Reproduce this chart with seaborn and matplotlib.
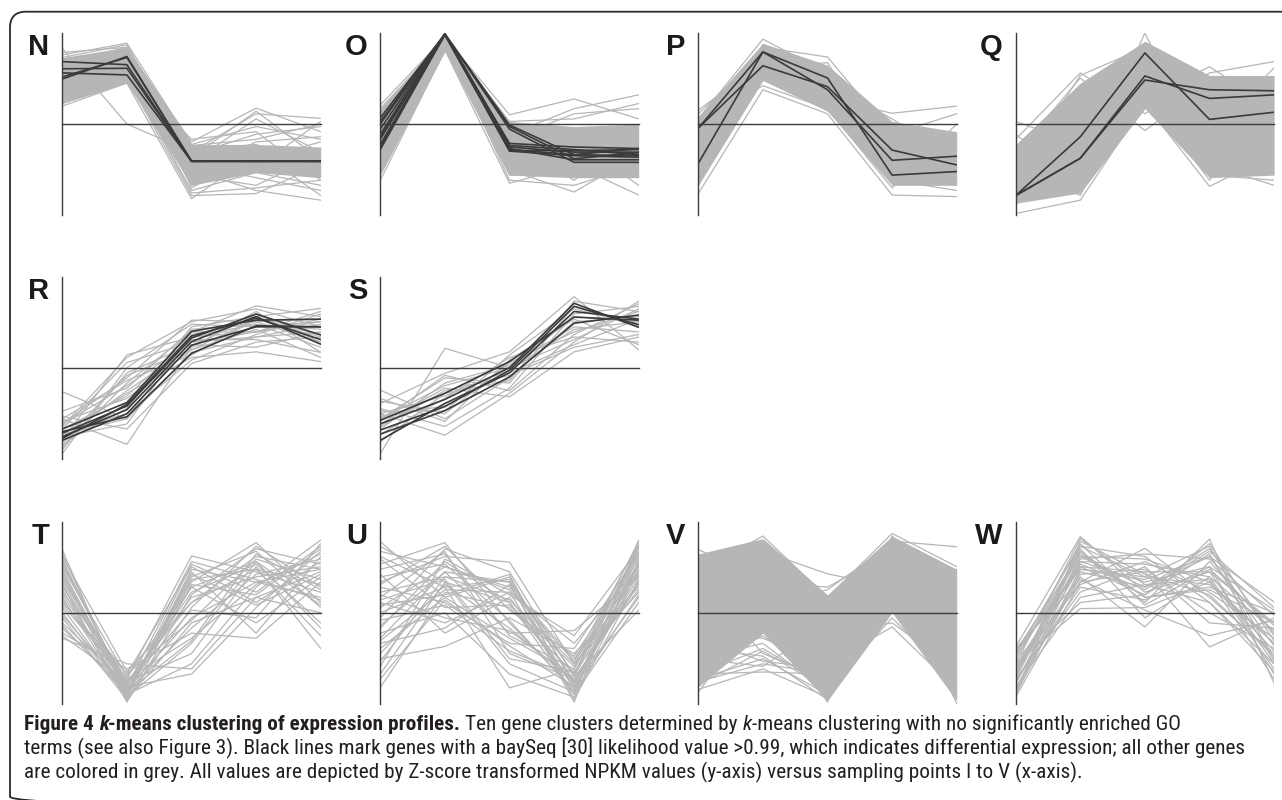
import matplotlib
matplotlib.use("Agg")
import matplotlib.pyplot as plt
from matplotlib import font_manager as fm
from matplotlib.font_manager import FontProperties
from matplotlib.patches import FancyBboxPatch
import seaborn as sns
import pandas as pd

# ---------------- data (Z-scores at sampling points I..V) ----------------
points = [1, 2, 3, 4, 5]

N_black = [
    [1.22, 1.16, -0.73, -0.73, -0.73],
    [0.88, 1.32, -0.73, -0.73, -0.73],
    [1.08, 1.09, -0.73, -0.72, -0.73],
    [0.92, 1.30, -0.72, -0.73, -0.72],
    [1.00, 0.96, -0.73, -0.73, -0.73],
]
N_grey = [
    [1.48, 0.00, -0.55, -0.65, -0.60],
    [1.35, 1.58, -0.40, -0.05, -0.30],
    [1.25, 1.45, -0.35, 0.31, -0.15],
    [0.35, 0.80, -1.46, -0.60, -1.00],
    [0.50, 0.90, -1.40, -1.36, -0.80],
    [0.80, 1.00, -0.55, 0.20, 0.11],
    [1.10, 1.20, -0.90, -1.30, -1.49],
    [0.95, 1.10, -1.20, -0.50, -1.40],
    [1.20, 1.40, -0.60, -0.20, -0.05],
    [0.70, 1.05, -1.00, -1.20, -0.60],
    [1.00, 1.30, -0.45, -0.85, 0.05],
    [0.60, 0.95, -1.30, -0.95, -1.20],
    [1.30, 1.55, -0.75, 0.10, -0.55],
    [0.85, 1.15, -0.50, -0.40, -0.90],
    [1.15, 1.25, -1.10, -0.70, -0.35],
    [0.45, 0.85, -0.80, -1.05, -1.30],
    [1.05, 1.35, -0.65, 0.25, -0.70],
    [0.75, 1.00, -1.35, -1.25, -1.10],
    [1.40, 1.50, -0.42, -0.30, 0.00],
    [0.55, 0.95, -0.30, -0.15, -1.10],
    [1.20, 1.50, -1.25, -0.55, -0.85],
    [0.65, 1.10, -0.95, -0.35, -0.25],
]
N_core = [([0.40, 0.80, -1.20, -0.95, -1.05], [1.30, 1.50, -0.40, -0.40, -0.45])]

O_black = [
    [0.12, 1.76, -0.02, -0.60, -0.48],
    [0.00, 1.76, -0.05, -0.68, -0.56],
    [-0.10, 1.76, -0.10, -0.75, -0.75],
    [-0.20, 1.76, -0.38, -0.45, -0.48],
    [-0.30, 1.76, -0.45, -0.55, -0.55],
    [-0.40, 1.76, -0.50, -0.60, -0.62],
    [-0.50, 1.76, -0.53, -0.62, -0.65],
    [-0.25, 1.76, -0.42, -0.50, -0.60],
    [0.05, 1.76, -0.48, -0.70, -0.70],
    [-0.45, 1.74, -0.52, -0.52, -0.50],
]
O_grey = [
    [0.37, 1.70, 0.18, 0.49, 0.10],
    [-1.10, 1.45, -1.16, -0.80, -1.39],
    [0.20, 1.60, -0.20, 0.30, 0.57],
    [-0.80, 1.50, -0.90, -1.33, -0.60],
    [0.30, 1.65, 0.05, 0.10, 0.40],
    [-0.60, 1.55, -0.70, -0.30, -1.20],
    [0.10, 1.72, -0.40, -1.10, -0.20],
    [-0.95, 1.48, -1.00, -0.90, -1.00],
    [-0.20, 1.68, -0.30, 0.20, 0.30],
    [0.25, 1.62, -0.60, -0.20, -0.90],
    [-0.70, 1.58, 0.00, -0.50, -0.10],
    [-0.40, 1.66, -1.10, -1.20, -0.80],
]
O_core = [([-1.00, 1.42, -1.00, -1.05, -1.05], [0.30, 1.74, 0.05, -0.05, 0.00])]

P_black = [
    [-0.08, 1.14, 0.73, -0.51, -0.80],
    [-0.77, 1.41, 0.90, -1.00, -0.93],
    [-0.08, 1.41, 0.67, -0.71, -0.63],
]
P_grey = [
    [0.27, 1.20, 0.50, 0.21, 0.35],
    [-1.36, 0.67, 0.20, -1.39, -1.42],
    [0.10, 1.66, 1.00, -0.30, -0.60],
    [-0.50, 1.50, 1.31, -0.20, 0.20],
    [-1.00, 0.90, 0.40, -0.90, -0.40],
    [0.20, 1.40, 0.60, -1.10, -1.30],
    [-0.30, 1.00, 1.10, -0.60, -1.00],
    [-0.80, 1.30, 0.80, 0.10, -0.70],
    [0.00, 0.75, 0.30, -1.25, 0.00],
    [-1.20, 1.10, 1.20, -0.80, -1.20],
    [-0.60, 1.55, 0.55, -0.40, -0.20],
]
P_core = [([-1.20, 0.85, 0.25, -1.20, -1.20], [0.15, 1.58, 1.15, 0.05, -0.15])]

Q_black = [
    [-1.40, -0.25, 1.39, 0.09, 0.23],
    [-1.40, -0.67, 0.94, 0.50, 0.57],
    [-1.40, -0.67, 0.86, 0.67, 0.65],
]
Q_grey = [
    [0.05, -0.40, 0.50, 1.12, 0.30],
    [-1.75, -1.49, 0.40, -1.22, -0.60],
    [-0.30, 1.00, 0.20, 1.00, 1.22],
    [-0.60, 0.90, -0.13, 0.80, -0.20],
    [-1.20, -1.00, 1.78, -0.80, -1.20],
    [-0.90, 0.60, 1.30, -0.50, 0.90],
    [-1.50, -0.20, 1.00, 0.30, -0.90],
    [-0.20, -1.20, 0.60, -1.10, 0.50],
    [-1.00, 0.95, 1.50, 0.60, -0.50],
    [-0.45, -0.80, 0.80, -0.20, 1.10],
    [-1.60, 0.40, 0.30, 0.90, 0.00],
    [-0.70, -1.40, 1.20, -1.00, -1.10],
]
Q_core = [([-1.55, -1.35, 0.30, -1.05, -1.00], [-0.40, 0.80, 1.62, 0.95, 0.95])]

R_black = [
    [-1.20, -0.68, 0.71, 0.93, 0.95],
    [-1.28, -0.75, 0.58, 1.05, 0.64],
    [-1.35, -0.82, 0.51, 1.00, 0.46],
    [-1.42, -0.90, 0.44, 0.80, 0.80],
    [-1.25, -0.96, 0.28, 0.82, 0.80],
    [-1.38, -0.72, 0.62, 0.97, 0.55],
]
R_grey = [
    [-0.47, -1.00, 0.30, 0.60, 0.70],
    [-1.68, 0.00, 0.85, 0.80, 0.90],
    [-1.00, -1.50, 0.40, 1.10, 0.30],
    [-1.40, 0.25, 0.60, 0.70, 1.10],
    [-1.10, -0.20, 0.93, 0.90, 0.50],
    [-1.30, -0.50, 0.20, 0.31, 0.12],
    [-1.55, -0.30, 0.70, 1.21, 1.00],
    [-0.95, -1.20, 0.08, 0.50, 0.60],
    [-1.20, 0.10, 0.50, 0.60, 0.85],
    [-1.45, -0.80, 0.80, 1.00, 1.16],
    [-1.05, -0.60, 0.35, 0.75, 0.20],
    [-1.35, -1.10, 0.65, 0.90, 0.95],
    [-1.60, -0.10, 0.45, 0.40, 0.70],
    [-0.85, -0.40, 0.75, 0.85, 0.40],
    [-1.25, -0.90, 0.15, 0.65, 1.05],
    [-1.15, 0.20, 0.90, 1.15, 0.80],
    [-1.50, -0.70, 0.55, 0.55, 0.30],
    [-1.00, -0.25, 0.25, 0.95, 0.65],
    [-1.30, -1.00, 0.70, 0.70, 0.90],
    [-1.40, -0.45, 0.40, 1.05, 0.50],
    [-1.20, -0.55, 0.60, 0.85, 0.75],
    [-1.10, -0.35, 0.50, 0.70, 0.95],
    [-1.45, -0.15, 0.35, 0.95, 0.60],
]
R_core = []

S_black = [
    [-1.03, -0.50, 0.12, 0.99, 0.93],
    [-1.10, -0.62, 0.00, 1.26, 0.79],
    [-1.22, -0.76, -0.05, 1.20, 0.84],
    [-1.30, -0.84, -0.18, 0.87, 1.03],
    [-1.42, -0.70, -0.10, 1.10, 0.95],
]
S_grey = [
    [-0.44, -1.00, -0.20, 0.90, 1.00],
    [-1.68, 0.38, 0.00, 1.00, 0.90],
    [-0.90, -1.32, -0.50, 0.50, 1.30],
    [-0.70, -0.11, 0.31, 1.39, 0.35],
    [-1.10, -0.40, -0.57, 0.31, 0.60],
    [-0.65, -0.90, 0.10, 0.70, 1.10],
    [-1.00, -0.20, -0.30, 1.20, 0.80],
    [-1.30, -0.60, 0.20, 0.60, 0.50],
    [-0.80, -1.15, -0.40, 1.05, 1.20],
    [-1.20, -0.30, 0.05, 0.80, 0.70],
    [-0.95, -0.75, -0.10, 0.45, 0.95],
    [-1.45, -0.50, -0.25, 1.30, 1.10],
    [-0.60, -1.05, 0.15, 0.95, 0.45],
    [-1.05, -0.15, -0.45, 0.65, 1.25],
    [-0.85, -0.85, 0.25, 1.15, 0.85],
    [-1.15, -0.45, -0.15, 0.40, 0.65],
    [-0.90, -0.55, -0.05, 0.75, 0.90],
    [-1.00, -0.35, 0.00, 0.55, 1.15],
]
S_core = []

T_black = []
T_grey = [
    [1.23, -1.70, -0.20, 0.30, 0.80],
    [1.00, -1.50, 0.60, 1.37, 0.20],
    [0.80, -1.60, -1.00, 0.50, 1.42],
    [0.50, -1.30, 1.11, 0.80, 0.40],
    [0.20, -1.20, 0.90, 0.20, 1.00],
    [0.00, -1.65, -0.60, 1.00, -0.30],
    [-0.20, -1.40, 0.30, 0.70, 0.90],
    [-0.40, -1.10, -0.40, -0.50, 0.60],
    [0.60, -1.55, 0.70, 1.20, 0.10],
    [0.35, -1.45, -1.20, 0.10, 1.20],
    [0.90, -1.25, 0.50, -0.20, 0.70],
    [-0.10, -1.70, 0.10, 1.30, 0.50],
    [0.70, -1.35, -0.80, 0.90, -0.70],
    [0.10, -1.60, 0.95, 0.40, 1.30],
    [-0.30, -1.50, -0.10, 0.60, 0.30],
    [1.10, -1.15, 0.20, 1.10, 0.85],
    [0.45, -1.65, 0.80, -0.40, 1.10],
    [-0.50, -1.00, -1.10, 0.30, 0.00],
    [0.25, -1.40, 0.40, 0.95, -0.20],
    [0.85, -1.55, -0.30, 0.75, 1.05],
    [1.15, -1.60, 0.65, 0.85, 0.55],
    [0.55, -1.75, 0.35, 1.25, 0.95],
    [0.15, -1.30, -0.50, 0.55, 1.15],
    [-0.25, -1.60, 0.75, 0.15, 0.75],
    [0.95, -1.45, 1.00, 0.65, 0.25],
    [0.40, -1.20, -0.15, 1.05, 0.65],
    [0.75, -1.70, 0.55, 0.35, 1.25],
    [-0.45, -1.35, 0.20, 0.85, -0.45],
    [1.05, -1.55, -0.55, 1.15, 0.45],
    [0.30, -1.65, 0.85, 0.60, 0.85],
    [0.65, -1.40, 0.05, -0.10, 1.35],
    [-0.05, -1.50, 0.50, 1.00, 0.15],
]
T_core = []

U_black = []
U_grey = [
    [1.39, 0.30, -0.50, -1.20, 1.30],
    [1.20, 0.90, 0.50, -0.90, 0.80],
    [0.95, 1.37, -0.20, -1.50, 1.00],
    [0.60, 1.10, 0.99, -1.00, 0.40],
    [0.40, 0.70, 0.60, -1.75, 1.42],
    [0.30, 1.20, -0.80, -1.30, 0.60],
    [0.20, -0.20, 0.40, -0.60, 0.90],
    [0.00, 0.50, -1.47, -1.10, 1.20],
    [-0.30, 1.00, 0.20, -1.60, 0.20],
    [-0.50, 0.80, -0.40, -0.35, 0.70],
    [-0.70, 0.30, 0.70, -1.40, 1.10],
    [-0.90, -0.66, -0.10, -0.80, 0.50],
    [-1.20, 0.60, -1.00, -1.55, 0.95],
    [-1.46, 0.40, 0.10, -1.20, 1.30],
    [0.75, -0.40, 0.30, -1.45, 0.30],
    [0.50, 0.20, -0.60, -0.70, 1.15],
    [-0.10, 1.25, 0.80, -1.25, 0.05],
    [-0.40, 0.00, -1.20, -1.65, 0.85],
    [0.10, 0.90, 0.45, -0.95, 1.35],
    [-0.80, 0.55, -0.30, -1.35, 0.60],
    [1.05, 0.10, 0.15, -1.05, 0.75],
    [-0.60, -0.30, 0.55, -1.50, 1.00],
    [0.25, 0.65, -0.90, -1.15, 0.45],
    [-1.05, 1.05, 0.35, -0.45, 1.25],
    [1.30, 0.60, 0.20, -1.40, 0.90],
    [0.85, 1.15, -0.45, -1.10, 1.40],
    [0.15, 0.35, 0.75, -1.70, 0.65],
    [-0.25, 0.80, 0.60, -1.20, 1.15],
    [-1.30, 0.25, -0.65, -1.45, 0.80],
    [0.55, 1.30, 0.05, -0.85, 1.05],
    [-0.55, 0.45, 0.40, -1.60, 1.30],
    [0.35, -0.10, -0.35, -1.30, 0.55],
    [-0.95, 0.70, 0.25, -1.00, 1.20],
    [0.70, 0.95, -0.15, -1.55, 0.35],
    [-0.15, 0.15, -0.75, -1.25, 1.00],
    [1.10, 0.50, 0.65, -1.35, 0.70],
]
U_core = []

V_black = []
V_grey = [
    [1.24, 0.60, 0.50, 1.20, 0.80],
    [0.80, 1.50, 0.30, 1.55, 0.90],
    [0.50, 1.20, 0.76, 0.50, 0.85],
    [1.00, 0.90, 0.10, 1.40, 1.29],
    [-1.56, 0.20, -1.75, 1.00, -1.78],
    [-1.20, -1.16, -1.20, 0.80, -1.20],
    [-0.80, 0.50, -1.50, 1.30, -0.60],
    [-0.40, -0.50, -1.00, -0.28, -1.50],
    [0.20, -0.30, -0.60, 0.60, -1.00],
    [-1.00, 0.30, -1.70, 1.50, 0.00],
    [0.60, -0.80, -1.30, 1.10, -1.40],
    [-0.20, 0.80, -0.30, 0.30, -0.30],
    [0.90, 1.30, -0.20, 0.90, 0.40],
    [-1.30, -0.90, -1.60, 0.10, -1.70],
    [0.30, 0.10, 0.45, 1.35, 0.20],
    [-0.60, -0.20, -0.80, 1.20, -0.90],
    [1.10, 0.70, -1.10, 0.70, 0.60],
    [-1.45, 0.00, -0.40, -0.20, -1.10],
    [0.00, 1.00, -1.40, 1.45, 0.70],
    [-0.90, -1.05, -0.20, 0.40, -1.60],
    [-1.50, -1.10, -1.65, 0.20, -1.50],
    [-1.20, -0.70, -1.45, 0.90, -1.00],
    [-0.90, -0.60, -1.55, 1.10, -1.30],
    [-1.35, -1.00, -1.20, 0.50, -0.80],
    [-0.70, -0.85, -1.70, 1.30, -1.65],
    [-1.10, -0.45, -1.35, 0.70, -1.20],
    [-1.40, -0.75, -1.50, -0.10, -1.40],
    [-0.50, -0.95, -1.10, 0.30, -0.50],
]
V_core = [([-1.45, -0.40, -1.72, 0.00, -1.72], [1.15, 1.45, 0.35, 1.50, 0.85])]

W_black = []
W_grey = [
    [-0.67, 1.49, 0.40, 0.80, -0.20],
    [-1.65, 0.60, 1.26, 0.30, -0.80],
    [-0.90, 1.20, 0.20, 1.44, -1.38],
    [-1.20, 0.90, 0.80, -0.67, -0.10],
    [-1.40, 1.10, 0.50, 1.10, 0.21],
    [-1.00, 0.08, 0.10, 0.60, -0.60],
    [-0.80, 1.30, 1.10, 0.20, -1.00],
    [-1.50, 0.70, -0.28, 1.00, -0.40],
    [-1.10, 1.00, 0.60, 0.90, -1.20],
    [-1.30, 0.40, 0.90, -0.20, -0.30],
    [-0.75, 1.15, 0.30, 0.50, 0.00],
    [-1.55, 0.85, 0.70, 1.30, -0.90],
    [-0.95, 0.55, 1.00, 0.40, -0.50],
    [-1.25, 1.25, -0.10, 0.70, -1.10],
    [-1.05, 0.95, 0.45, 1.20, 0.10],
    [-1.35, 0.75, 0.85, 0.00, -0.70],
    [-0.85, 1.35, 0.15, 0.85, -0.25],
    [-1.45, 0.30, 0.55, 0.65, -1.30],
    [-1.15, 1.05, 1.15, 1.05, -0.05],
    [-0.70, 0.65, 0.05, -0.45, -0.15],
    [-1.60, 1.40, 0.75, 0.35, -0.85],
    [-1.00, 0.20, 0.35, 1.35, -0.55],
    [-1.20, 1.30, 0.70, 0.55, -0.60],
    [-0.80, 0.90, 0.35, 1.15, -0.95],
    [-1.50, 1.00, 0.95, 0.70, -0.35],
    [-1.00, 1.45, 0.55, 0.20, -1.15],
    [-1.35, 0.50, 0.25, 0.90, 0.05],
    [-0.90, 1.10, 1.05, 0.60, -0.75],
    [-1.60, 0.80, 0.50, 1.25, -0.45],
    [-1.10, 0.60, 0.80, 0.80, -1.00],
    [-1.30, 1.20, 0.30, 0.45, -0.20],
    [-0.75, 0.85, 0.65, 1.10, -0.65],
]
W_core = []

panel_letters = ["N", "O", "P", "Q", "R", "S", "T", "U", "V", "W"]
panel_grid = [(0, 0), (0, 1), (0, 2), (0, 3), (1, 0), (1, 1), (2, 0), (2, 1), (2, 2), (2, 3)]

caption_line1 = [
    ("Figure 4", "bold", "normal", True),
    ("k", "bold", "italic", False),
    ("-means clustering of expression profiles.", "bold", "normal", True),
    ("Ten gene clusters determined by", "normal", "normal", True),
    ("k", "normal", "italic", False),
    ("-means clustering with no significantly enriched GO", "normal", "normal", False),
]
caption_line2 = ("terms (see also Figure 3). Black lines mark genes with a baySeq [30] likelihood "
                 "value >0.99, which indicates differential expression; all other genes")
caption_line3 = ("are colored in grey. All values are depicted by Z-score transformed NPKM values "
                 "(y-axis) versus sampling points I to V (x-axis).")

# ---------------- style ----------------
GREY = "#b5b6b8"
BLACK = "#3a3a3a"
AXC = "#3c3c3c"
TXT = "#231f20"

sns.set_style("white")
plt.rcParams["font.family"] = ["Liberation Sans", "DejaVu Sans"]

# ---- pick a condensed / narrow face (with a bold cut) for the caption ----
ttf = fm.fontManager.ttflist


def wnum(w):
    if isinstance(w, str):
        return fm.weight_dict.get(w, 400)
    return int(w)


def is_cond(f):
    s = str(f.stretch)
    return s in ("condensed", "semi-condensed", "extra-condensed") or (s.isdigit() and int(s) < 100)


by_name = {}
for f in ttf:
    by_name.setdefault(f.name, []).append(f)

BAD = ("Light", "Thin", "Black", "Medium", "Semi", "Extra", "Mono", "Display", "Heavy", "Ultra", "Bold")
cand = []
for n, fl in by_name.items():
    if any(b in n for b in BAD):
        continue
    cond_files = [f for f in fl if is_cond(f) or "Condensed" in n or "Narrow" in n]
    if not cond_files:
        continue
    ws = {wnum(f.weight) for f in cond_files}
    has_reg = any(350 <= w <= 450 for w in ws)
    has_bold = any(w >= 600 for w in ws) or (n + " Bold") in by_name or (n + " SemiBold") in by_name
    stretch_needed = not ("Condensed" in n or "Narrow" in n)
    pref = ["Liberation Sans Narrow", "Roboto Condensed", "Open Sans Condensed",
            "Noto Sans Condensed", "DejaVu Sans"]
    rank = pref.index(n) if n in pref else len(pref)
    cand.append((not has_bold, not has_reg, rank, n, stretch_needed))
cand.sort()
if cand:
    _, _, _, CAP_NAME, need_stretch = cand[0]
    CAP_STRETCH = "condensed" if need_stretch else "normal"
else:
    CAP_NAME, CAP_STRETCH = "Liberation Sans", "normal"

CAP_BOLD_NAME = CAP_NAME
if not any(wnum(f.weight) >= 600 for f in by_name.get(CAP_NAME, [])):
    for suffix in (" Bold", " SemiBold"):
        if CAP_NAME + suffix in by_name:
            CAP_BOLD_NAME = CAP_NAME + suffix
            break


def cap_fp(fs, weight="normal", style="normal"):
    fam = CAP_BOLD_NAME if weight == "bold" else CAP_NAME
    return FontProperties(family=[fam, "DejaVu Sans"], size=fs, weight=weight,
                          style=style, stretch=CAP_STRETCH)


W_PX, H_PX = 1282, 800
fig = plt.figure(figsize=(W_PX / 100, H_PX / 100), dpi=100)
fig.patch.set_facecolor("white")

# background pixel-space axes (border, letters, caption)
bg = fig.add_axes([0, 0, 1, 1])
bg.set_xlim(0, W_PX)
bg.set_ylim(H_PX, 0)
bg.axis("off")
bg.set_zorder(-1)
bg.add_patch(FancyBboxPatch((10, 11.7), 1300, 801, boxstyle="round,pad=0,rounding_size=16",
                            fill=False, edgecolor="#2a2a2a", linewidth=1.3, clip_on=True))

col_left = [62.3, 380.3, 698.3, 1015.7]
row_top = [33.0, 276.7, 521.7]
AX_W, AX_H = 258.4, 182.0


def long_df(rows):
    recs = []
    for g, vals in enumerate(rows):
        for p, v in zip(points, vals):
            recs.append({"gene": g, "point": p, "z": v})
    return pd.DataFrame(recs)


data_by_letter = {
    "N": (N_grey, N_black, N_core), "O": (O_grey, O_black, O_core),
    "P": (P_grey, P_black, P_core), "Q": (Q_grey, Q_black, Q_core),
    "R": (R_grey, R_black, R_core), "S": (S_grey, S_black, S_core),
    "T": (T_grey, T_black, T_core), "U": (U_grey, U_black, U_core),
    "V": (V_grey, V_black, V_core), "W": (W_grey, W_black, W_core),
}

for letter, (r, c) in zip(panel_letters, panel_grid):
    left, top = col_left[c], row_top[r]
    ax = fig.add_axes([left / W_PX, 1 - (top + AX_H) / H_PX, AX_W / W_PX, AX_H / H_PX])
    ax.patch.set_alpha(0)
    grey, black, cores = data_by_letter[letter]
    for lo, hi in cores:
        ax.fill_between(points, lo, hi, color=GREY, linewidth=0, zorder=1)
    sns.lineplot(data=long_df(grey), x="point", y="z", units="gene", estimator=None,
                 color=GREY, linewidth=0.9, ax=ax, legend=False, zorder=2)
    if black:
        sns.lineplot(data=long_df(black), x="point", y="z", units="gene", estimator=None,
                     color=BLACK, linewidth=1.2, ax=ax, legend=False, zorder=3)
    ax.set_xlim(1, 5)
    ax.set_ylim(-1.78, 1.78)
    ax.set_xlabel("")
    ax.set_ylabel("")
    for s in ["top", "right"]:
        ax.spines[s].set_visible(False)
    ax.spines["bottom"].set_position(("data", 0))
    for s in ["bottom", "left"]:
        ax.spines[s].set_color(AXC)
        ax.spines[s].set_linewidth(1.0)
        ax.spines[s].set_zorder(5)
    ax.set_xticks(points)
    ax.set_yticks([-1, 1])
    ax.tick_params(axis="x", direction="inout", length=6, width=1.0, color=AXC, labelbottom=False)
    ax.tick_params(axis="y", direction="out", length=4, width=1.0, color=AXC, labelleft=False)
    ax.xaxis.set_zorder(5)
    ax.yaxis.set_zorder(5)
    bg.text(left - 13, top + 22, letter, ha="right", va="baseline", fontsize=21,
            fontweight="bold", color="#1a1a1a", family=["Liberation Sans", "DejaVu Sans"])

# ---------------- caption ----------------
renderer = fig.canvas.get_renderer()


def text_w(s, fs, weight="normal", style="normal"):
    t = bg.text(0, 0, s, fontproperties=cap_fp(fs, weight, style))
    w = t.get_window_extent(renderer).width
    t.remove()
    return w


base_fs = 14.0
w2 = text_w(caption_line2, base_fs)
FS = base_fs * 1233.0 / w2
space_w = text_w("a a", FS) - text_w("aa", FS)

x0 = 24
y1, y2, y3 = 730, 754, 778
x = x0
for s, weight, style, sp in caption_line1:
    t = bg.text(x, y1, s, fontproperties=cap_fp(FS, weight, style),
                color=TXT, ha="left", va="baseline")
    x += t.get_window_extent(renderer).width + (space_w if sp else 0)
bg.text(x0, y2, caption_line2, fontproperties=cap_fp(FS), color=TXT, ha="left", va="baseline")
bg.text(x0, y3, caption_line3, fontproperties=cap_fp(FS), color=TXT, ha="left", va="baseline")

fig.savefig("out.png", dpi=100, facecolor="white")
